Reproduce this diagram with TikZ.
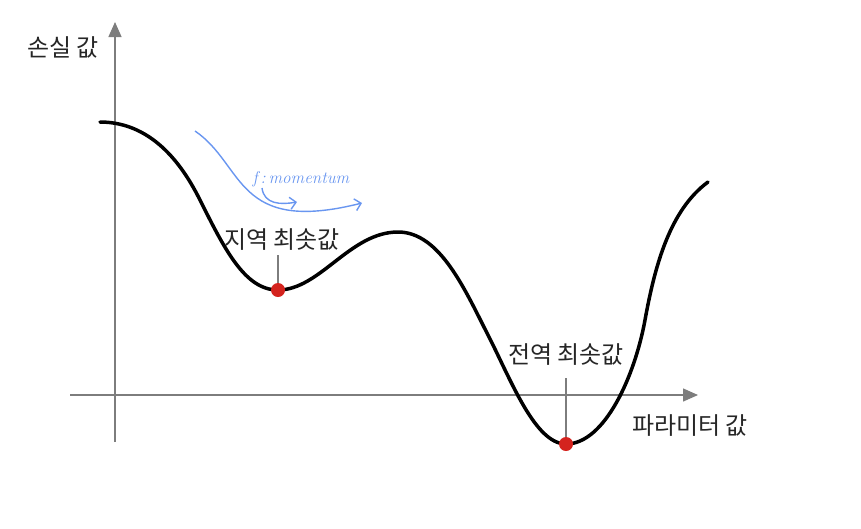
\documentclass[tikz,border=0pt]{standalone}
\usepackage{fontspec}
\newfontfamily\kr{Noto Sans CJK KR}
\usepackage{xcolor}
\usetikzlibrary{arrows.meta}
\definecolor{axisgray}{RGB}{125,125,125}
\definecolor{dotred}{RGB}{212,35,30}
\definecolor{penblue}{RGB}{105,150,240}
\tikzset{
  axis/.style={axisgray,line width=1.4pt,-{Triangle[length=15pt,width=13pt]}},
  lbl/.style={font=\kr\fontsize{24}{26}\selectfont,text=black!85,inner sep=0pt},
  dot/.style={circle,fill=dotred,minimum size=14pt,inner sep=0pt},
  pin/.style={axisgray,line width=1.2pt},
  pen/.style={penblue,line width=1.4pt,-{Straight Barb[length=6pt,width=12pt]}}
}
\begin{document}
\begin{tikzpicture}[x=1pt,y=-1pt]
  \useasboundingbox (0,0) rectangle (861,528);
  % Axes
  \coordinate (ybot) at (115,442);
  \coordinate (ytop) at (115,22);
  \coordinate (xleft) at (70,395);
  \coordinate (xright) at (698,395);
  \draw[axis] (ybot) -- (ytop);
  \draw[axis] (xleft) -- (xright);
  \node[lbl] (ylabel) at (63,47) {손실 값};
  \node[lbl] (xlabel) at (690,426) {파라미터 값};
  % Loss curve
  \draw[black,line width=3.5pt,line cap=round]
    (100,122) .. controls (155,122) and (185,170) .. (200,200)
              .. controls (225,250) and (245,290) .. (278,290)
              .. controls (320,290) and (350,232) .. (398,232)
              .. controls (440,232) and (465,290) .. (488,335)
              .. controls (511,380) and (535,444) .. (566,444)
              .. controls (605,444) and (635,375) .. (645,320)
              .. controls (655,265) and (670,210) .. (708,182);
  % Minima
  \node[dot] (localmin) at (278,290) {};
  \node[dot] (globalmin) at (566,444) {};
  \coordinate (localtop) at (278,255);
  \coordinate (globaltop) at (566,378);
  \draw[pin] (localtop) -- (localmin);
  \draw[pin] (globaltop) -- (globalmin);
  \node[lbl] (locallabel) at (282,240) {지역 최솟값};
  \node[lbl] (globallabel) at (566,355) {전역 최솟값};
  % Momentum note
  \coordinate (m0) at (195,131);
  \coordinate (m1) at (362,203);
  \coordinate (s0) at (262,188);
  \coordinate (s1) at (297,202);
  \draw[pen] (m0) .. controls (245,165) and (235,235) .. (m1);
  \draw[pen] (s0) .. controls (264,204) and (280,205) .. (s1);
  \node[penblue,font=\itshape\fontsize{17}{18}\selectfont,inner sep=0pt]
       (note) at (301,179) {f\,:\,momentum};
\end{tikzpicture}
\end{document}
